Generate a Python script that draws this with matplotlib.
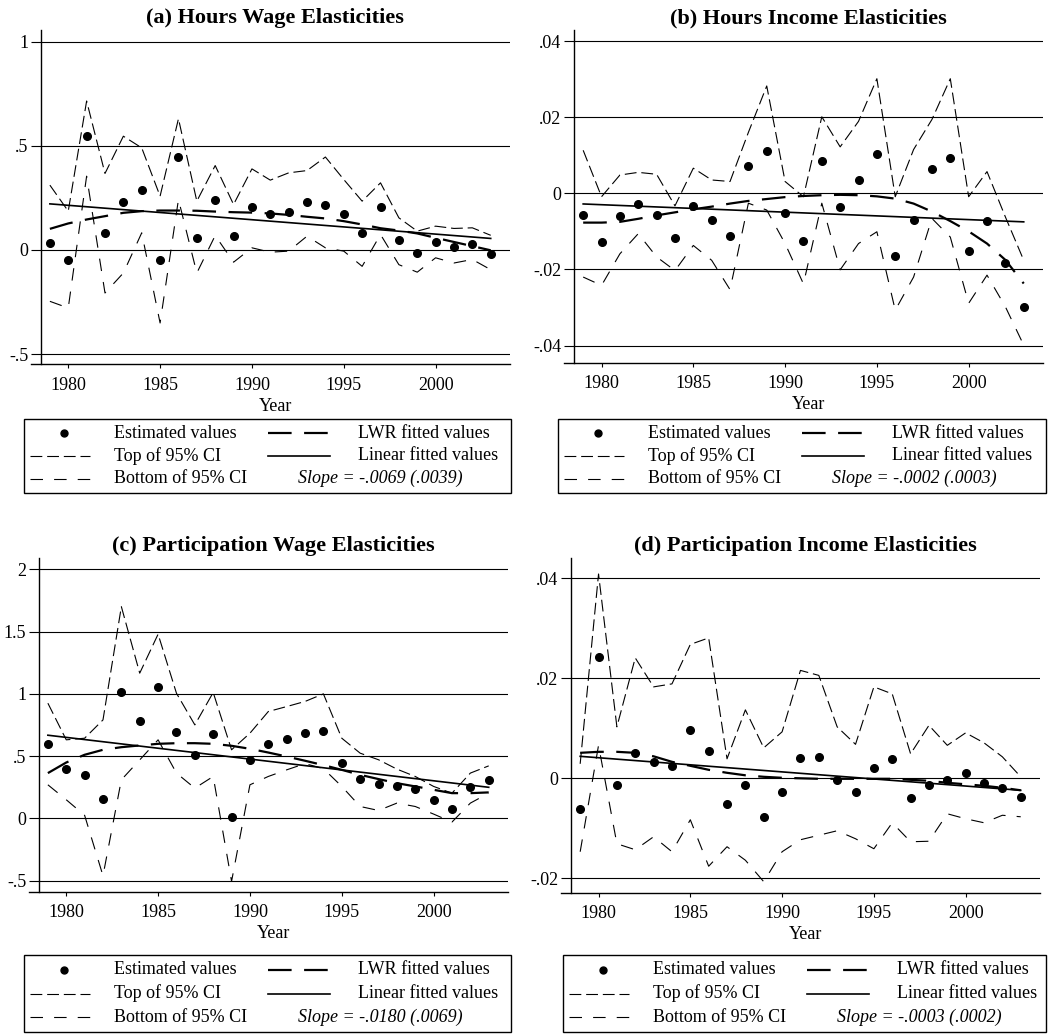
import matplotlib
matplotlib.use('Agg')
import matplotlib.pyplot as plt
from matplotlib.patches import Rectangle

plt.rcParams['font.family'] = ['Liberation Serif', 'DejaVu Serif']
plt.rcParams['lines.scale_dashes'] = False

years = list(range(1979, 2004))
lin_years = [1979, 2003]

# (a) Hours Wage Elasticities
est_a = [0.034, -0.048, 0.545, 0.082, 0.232, 0.287, -0.048, 0.446, 0.058, 0.240,
         0.069, 0.205, 0.170, 0.184, 0.228, 0.216, 0.170, 0.080, 0.207, 0.048,
         -0.013, 0.038, 0.013, 0.027, -0.019]
top_a = [0.311, 0.186, 0.715, 0.367, 0.546, 0.490, 0.258, 0.630, 0.234, 0.405,
         0.218, 0.389, 0.335, 0.370, 0.381, 0.446, 0.338, 0.234, 0.322, 0.154,
         0.090, 0.114, 0.103, 0.106, 0.070]
bot_a = [-0.247, -0.279, 0.354, -0.207, -0.111, 0.082, -0.351, 0.242, -0.111, 0.069,
         -0.059, 0.010, -0.011, -0.006, 0.066, 0.010, -0.006, -0.079, 0.074, -0.071,
         -0.107, -0.038, -0.063, -0.046, -0.095]
lwr_a = [0.101, 0.127, 0.146, 0.162, 0.178, 0.186, 0.189, 0.189, 0.188, 0.184,
         0.181, 0.179, 0.175, 0.168, 0.159, 0.151, 0.138, 0.122, 0.104, 0.093,
         0.079, 0.058, 0.038, 0.018, -0.002]
lin_a = [0.221, 0.055]

# (b) Hours Income Elasticities
est_b = [-0.0056, -0.0128, -0.0059, -0.0027, -0.0056, -0.0118, -0.0033, -0.0071, -0.0113, 0.0072,
         0.0112, -0.0053, -0.0124, 0.0085, -0.0036, 0.0035, 0.0102, -0.0166, -0.0069, 0.0063,
         0.0093, -0.0152, -0.0073, -0.0183, -0.0299]
top_b = [0.0113, -0.0009, 0.0048, 0.0055, 0.0050, -0.0033, 0.0066, 0.0035, 0.0031, 0.0160,
         0.0282, 0.0031, -0.0009, 0.0201, 0.0122, 0.0189, 0.0301, -0.0009, 0.0115, 0.0194,
         0.0301, -0.0009, 0.0057, -0.0062, -0.0176]
bot_b = [-0.0220, -0.0242, -0.0159, -0.0106, -0.0167, -0.0203, -0.0137, -0.0176, -0.0253, -0.0026,
         -0.0044, -0.0132, -0.0238, -0.0026, -0.0201, -0.0132, -0.0101, -0.0307, -0.0220, -0.0066,
         -0.0115, -0.0289, -0.0215, -0.0298, -0.0399]
lwr_b = [-0.0077, -0.0077, -0.0075, -0.0067, -0.0058, -0.0050, -0.0042, -0.0035, -0.0027, -0.0020,
         -0.0015, -0.0010, -0.0007, -0.0005, -0.0004, -0.0005, -0.0008, -0.0014, -0.0027, -0.0048,
         -0.0073, -0.0100, -0.0132, -0.0175, -0.0237]
lin_b = [-0.0028, -0.0075]

# (c) Participation Wage Elasticities
est_c = [0.596, 0.396, 0.345, 0.160, 1.013, 0.783, 1.056, 0.690, 0.511, 0.679,
         0.013, 0.468, 0.594, 0.634, 0.682, 0.703, 0.449, 0.316, 0.275, 0.257,
         0.233, 0.152, 0.075, 0.251, 0.310]
top_c = [0.925, 0.631, 0.644, 0.791, 1.700, 1.166, 1.479, 1.005, 0.751, 1.011,
         0.551, 0.684, 0.858, 0.898, 0.939, 1.000, 0.644, 0.524, 0.471, 0.396,
         0.337, 0.257, 0.203, 0.364, 0.422]
bot_c = [0.270, 0.150, 0.025, -0.460, 0.310, 0.470, 0.631, 0.364, 0.243, 0.337,
         -0.505, 0.270, 0.337, 0.390, 0.440, 0.400, 0.257, 0.096, 0.064, 0.123,
         0.096, 0.035, -0.029, 0.123, 0.203]
lwr_c = [0.364, 0.449, 0.511, 0.551, 0.572, 0.586, 0.599, 0.604, 0.604, 0.599,
         0.583, 0.559, 0.529, 0.497, 0.463, 0.428, 0.390, 0.350, 0.316, 0.283,
         0.257, 0.230, 0.203, 0.203, 0.209]
lin_c = [0.668, 0.250]

# (d) Participation Income Elasticities
est_d = [-0.0061, 0.0242, -0.0013, 0.0051, 0.0033, 0.0024, 0.0096, 0.0055, -0.0051, -0.0014,
         -0.0077, -0.0027, 0.0041, 0.0043, -0.0004, -0.0027, 0.0021, 0.0039, -0.0040, -0.0013,
         -0.0003, 0.0010, -0.0009, -0.0019, -0.0037]
top_d = [0.0029, 0.0409, 0.0103, 0.0241, 0.0183, 0.0189, 0.0268, 0.0281, 0.0039, 0.0137,
         0.0061, 0.0093, 0.0216, 0.0206, 0.0103, 0.0068, 0.0183, 0.0169, 0.0049, 0.0106,
         0.0066, 0.0091, 0.0071, 0.0043, 0.0003]
bot_d = [-0.0147, 0.0066, -0.0131, -0.0143, -0.0117, -0.0147, -0.0083, -0.0176, -0.0137, -0.0164,
         -0.0207, -0.0147, -0.0123, -0.0114, -0.0105, -0.0121, -0.0141, -0.0089, -0.0127, -0.0126,
         -0.0071, -0.0081, -0.0089, -0.0074, -0.0077]
lwr_d = [0.0051, 0.0053, 0.0053, 0.0051, 0.0044, 0.0033, 0.0025, 0.0017, 0.0011, 0.0006,
         0.0003, 0.0001, 0.0000, -0.0001, -0.0001, -0.0001, -0.0001, -0.0001, -0.0003, -0.0005,
         -0.0009, -0.0012, -0.0015, -0.0019, -0.0024]
lin_d = [0.0044, -0.0024]

titles = ['(a) Hours Wage Elasticities', '(b) Hours Income Elasticities',
          '(c) Participation Wage Elasticities', '(d) Participation Income Elasticities']
slopes = ['Slope = -.0069 (.0039)', 'Slope = -.0002 (.0003)',
          'Slope = -.0180 (.0069)', 'Slope = -.0003 (.0002)']
yticks_a = [-0.5, 0, 0.5, 1]
ylabels_a = ['-.5', '0', '.5', '1']
yticks_b = [-0.04, -0.02, 0, 0.02, 0.04]
ylabels_b = ['-.04', '-.02', '0', '.02', '.04']
yticks_c = [-0.5, 0, 0.5, 1, 1.5, 2]
ylabels_c = ['-.5', '0', '.5', '1', '1.5', '2']
yticks_d = [-0.02, 0, 0.02, 0.04]
ylabels_d = ['-.02', '0', '.02', '.04']
xticks = [1980, 1985, 1990, 1995, 2000]

W, H = 1055, 1034
FS = 13

# line styles
TOP = dict(color='black', lw=0.8, dashes=(8.5, 3.5))
BOT = dict(color='black', lw=0.8, dashes=(9, 8))
LWR = dict(color='black', lw=1.6, dashes=(17, 9))
LIN = dict(color='black', lw=1.2)
DOT = dict(color='black', marker='o', ms=5.5, ls='none')

fig = plt.figure(figsize=(W / 100, H / 100), dpi=100)


def px_axes(left, top, right, bottom):
    return fig.add_axes([left / W, 1 - bottom / H, (right - left) / W, (bottom - top) / H])


def panel(box, ylim, est, top, bot, lwr, lin, yt, yl, title):
    ax = px_axes(*box)
    ax.plot(years, top, **TOP)
    ax.plot(years, bot, **BOT)
    ax.plot(years, lwr, **LWR)
    ax.plot(lin_years, lin, **LIN)
    ax.plot(years, est, zorder=5, **DOT)
    ax.set_xlim(1978.5, 2004.05)
    ax.set_ylim(*ylim)
    ax.set_yticks(yt)
    ax.set_yticklabels(yl)
    ax.set_xticks(xticks)
    ax.grid(axis='y', color='black', lw=0.8)
    ax.set_axisbelow(True)
    for s in ['top', 'right', 'bottom']:
        ax.spines[s].set_visible(False)
    ax.spines['left'].set_linewidth(1.0)
    ext = 10 / (box[2] - box[0])
    ax.plot([-ext, 1], [0, 0], transform=ax.transAxes, color='black', lw=1.0, clip_on=False)
    ax.tick_params(axis='y', direction='out', length=7, width=0.8, labelsize=FS, pad=2)
    ax.tick_params(axis='x', direction='out', length=3, width=0.8, labelsize=FS, pad=6)
    ax.set_xlabel('Year', fontsize=FS, labelpad=3)
    ax.set_title(title, fontsize=16, fontweight='bold', pad=5)
    return ax


def legend_box(left, top, right, bottom, slope):
    lg = px_axes(left, top, right, bottom)
    w, h = right - left, bottom - top
    lg.set_xlim(0, w)
    lg.set_ylim(h, 0)
    lg.axis('off')
    lg.add_patch(Rectangle((0.5, 0.5), w - 1.5, h - 1.5, fill=False, edgecolor='black',
                           lw=1.0, clip_on=False))
    rows = [h * 0.20, h * 0.50, h * 0.80]
    lg.plot([41], [rows[0]], color='black', marker='o', ms=5)
    lg.plot([7, 67], [rows[1]] * 2, **TOP)
    lg.plot([7, 67], [rows[2]] * 2, **BOT)
    lg.plot([245, 307], [rows[0]] * 2, **LWR)
    lg.plot([245, 307], [rows[1]] * 2, **LIN)
    for r, t in zip(rows, ['Estimated values', 'Top of 95% CI', 'Bottom of 95% CI']):
        lg.text(91, r, t, fontsize=FS, va='center')
    for r, t in zip(rows[:2], ['LWR fitted values', 'Linear fitted values']):
        lg.text(335, r, t, fontsize=FS, va='center')
    lg.text(357, rows[2], slope, fontsize=FS, style='italic', ha='center', va='center')


panel((40.7, 30, 510, 364), (-0.548, 1.056), est_a, top_a, bot_a, lwr_a, lin_a,
      yticks_a, ylabels_a, titles[0])
panel((574, 30, 1043, 362.7), (-0.0445, 0.0429), est_b, top_b, bot_b, lwr_b, lin_b,
      yticks_b, ylabels_b, titles[1])
panel((38.7, 558.3, 508, 891.7), (-0.588, 2.088), est_c, top_c, bot_c, lwr_c, lin_c,
      yticks_c, ylabels_c, titles[2])
panel((571, 558, 1040, 892.7), (-0.0229, 0.0441), est_d, top_d, bot_d, lwr_d, lin_d,
      yticks_d, ylabels_d, titles[3])

legend_box(23, 418, 512, 494, slopes[0])
legend_box(557, 418, 1047, 494, slopes[1])
legend_box(23, 954, 512, 1033, slopes[2])
legend_box(562, 954, 1047, 1033, slopes[3])

fig.savefig('out.png', dpi=100)
